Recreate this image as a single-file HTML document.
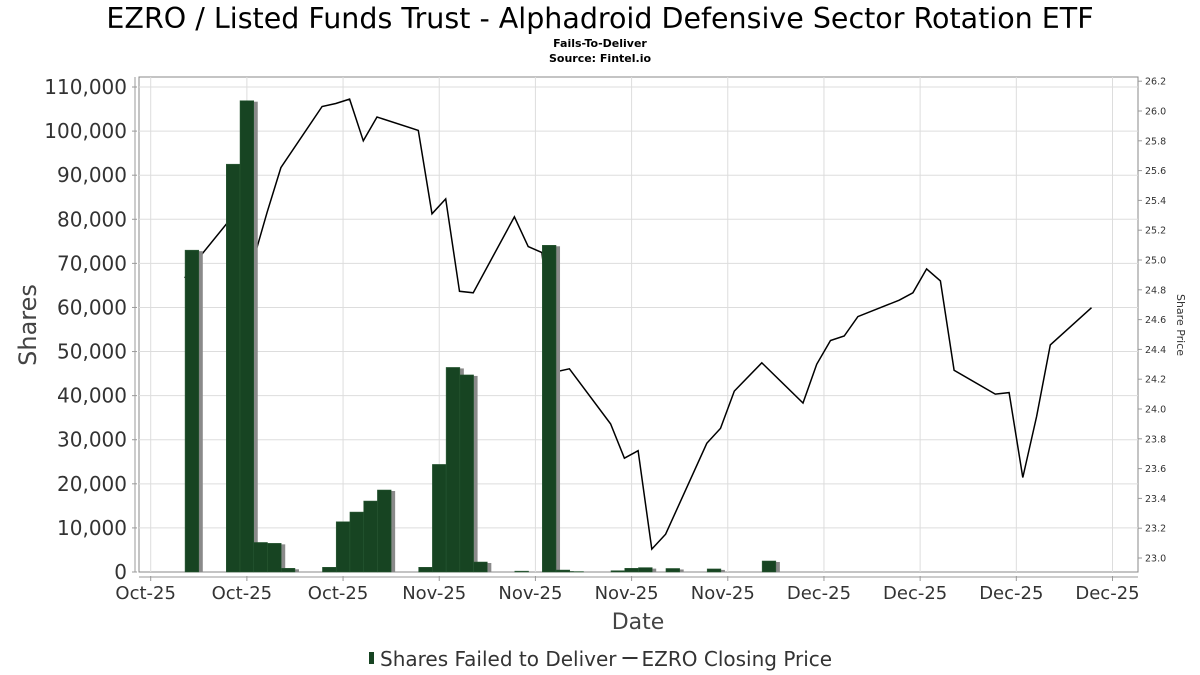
<!DOCTYPE html>
<html><head><meta charset="utf-8"><style>
body{margin:0;background:#fff;width:1200px;height:675px;overflow:hidden}
svg{display:block;font-family:"DejaVu Sans","Liberation Sans",sans-serif}
</style></head><body>
<svg id="chart" width="1200" height="675" viewBox="0 0 1200 675">
<text x="600" y="28" text-anchor="middle" font-size="28.5" fill="#000">EZRO / Listed Funds Trust - Alphadroid Defensive Sector Rotation ETF</text>
<text x="600" y="47" text-anchor="middle" font-size="11" font-weight="bold" fill="#000">Fails-To-Deliver</text>
<text x="600" y="62" text-anchor="middle" font-size="11" font-weight="bold" fill="#000">Source: Fintel.io</text>
<rect x="139" y="77" width="999" height="495" fill="#fff" stroke="#888"/>
<g id="grid"></g><g id="line"></g><g id="bars"></g><g id="axes"></g>
<text x="0" y="0" transform="translate(36,325) rotate(-90)" text-anchor="middle" font-size="24" fill="#444">Shares</text>
<text x="0" y="0" transform="translate(1177,325) rotate(90)" text-anchor="middle" font-size="11" fill="#333">Share Price</text>
<text x="638" y="629" text-anchor="middle" font-size="22" fill="#444">Date</text>
<g>
<rect x="369" y="652" width="5" height="12" fill="#174422"/>
<text id="lg1" x="380" y="666" font-size="20" fill="#333">Shares Failed to Deliver</text>
<line id="lgl" x1="617" y1="658" x2="632" y2="658" stroke="#333" stroke-width="2"/>
<text id="lg2" x="635" y="666" font-size="20" fill="#333">EZRO Closing Price</text>
</g>
</svg>
<script>
const barDays=[3,6,7,8,9,10,13,14,15,16,17,20,21,22,23,24,27,29,30,31,34,35,36,38,41,45];
const barValues=[73000,92500,106900,6700,6500,840,1070,11400,13600,16100,18600,1070,24400,46400,44700,2270,200,74100,450,100,300,840,1000,800,700,2500];
const priceDays=[2,3,6,7,8,9,12,13,14,15,16,19,20,21,22,23,26,27,28,29,30,33,34,35,36,37,40,41,42,44,47,48,49,50,51,54,55,56,57,58,61,62,63,64,65,68];
const priceValues=[24.88,25.01,25.35,25.00,25.32,25.62,26.03,26.05,26.08,25.80,25.96,25.87,25.31,25.41,24.79,24.78,25.29,25.09,25.05,24.25,24.27,23.90,23.67,23.72,23.06,23.16,23.77,23.87,24.12,24.31,24.04,24.30,24.46,24.49,24.62,24.73,24.78,24.94,24.86,24.26,24.10,24.11,23.54,23.95,24.43,24.68];
const leftTicks=[0,10000,20000,30000,40000,50000,60000,70000,80000,90000,100000,110000];
const rightTicks=[23.0,23.2,23.4,23.6,23.8,24.0,24.2,24.4,24.6,24.8,25.0,25.2,25.4,25.6,25.8,26.0,26.2];
const xTickDays=[0,7,14,21,28,35,42,49,56,63,70];
const xTickLabels=["Oct-25","Oct-25","Oct-25","Nov-25","Nov-25","Nov-25","Nov-25","Dec-25","Dec-25","Dec-25","Dec-25"];
const NS="http://www.w3.org/2000/svg";
const X=d=>150.7+13.74*d;
const Y=v=>572-v*0.004409;
const P=p=>558-(p-23)/0.2*29.8;
function mk(tag,attrs,parent){const e=document.createElementNS(NS,tag);for(const k in attrs)e.setAttribute(k,attrs[k]);parent.appendChild(e);return e;}
const grid=document.getElementById('grid'),axes=document.getElementById('axes'),bars=document.getElementById('bars'),lineG=document.getElementById('line');
leftTicks.forEach(t=>{
 const y=Y(t);
 if(t>0){const g=mk('line',{x1:139,x2:1138,y1:y,y2:y,stroke:'#ddd'},grid);
 
 }
 mk('line',{x1:132,x2:137,y1:y,y2:y,stroke:'#999'},axes);
 const tx=mk('text',{x:127,y:y+7,'text-anchor':'end','font-size':20,fill:'#333'},axes);
 tx.textContent=t.toLocaleString('en-US');
 
 
});
mk('line',{x1:135,x2:135,y1:77,y2:572,stroke:'#999'},axes);
xTickDays.forEach((d,i)=>{
 const x=X(d);
 const g=mk('line',{x1:x,x2:x,y1:77,y2:572,stroke:'#ddd'},grid);
 
 
 mk('line',{x1:x,x2:x,y1:576,y2:581,stroke:'#999'},axes);
 const tx=mk('text',{x:x-5,y:599,'text-anchor':'middle','font-size':18,fill:'#333'},axes);
 tx.textContent=xTickLabels[i];
 
 
});
mk('line',{x1:139,x2:1138,y1:577,y2:577,stroke:'#999'},axes);
rightTicks.forEach(t=>{
 const y=P(t);
 mk('line',{x1:1138,x2:1142,y1:y,y2:y,stroke:'#999'},axes);
 const tx=mk('text',{x:1145,y:y+3.5,'font-size':9.5,fill:'#333'},axes);
 tx.textContent=t.toFixed(1);
 
 
});
barDays.forEach((d,i)=>{
 const x=X(d)-6.87,y=Y(barValues[i]),h=572-y;
 mk('rect',{x:x+4,y:y+1,width:13.74,height:h-1,fill:'#8a8a8a'},bars);
 const r=mk('rect',{x:x,y:y,width:13.74,height:h,fill:'#174422',stroke:'#2a5a35','stroke-width':0.5},bars);
 
 
});
const pts=priceDays.map((d,i)=>(X(d)+6.5).toFixed(1)+','+P(priceValues[i]).toFixed(1)).join(' ');
const pl=mk('polyline',{points:pts,fill:'none',stroke:'#000','stroke-width':1.5},lineG);


const l1=document.getElementById('lg1'),l2=document.getElementById('lg2'),ll=document.getElementById('lgl');
const e1=380+l1.getComputedTextLength();
ll.setAttribute('x1',e1+6);ll.setAttribute('x2',e1+21);
l2.setAttribute('x',e1+25);
</script>
</body></html>
